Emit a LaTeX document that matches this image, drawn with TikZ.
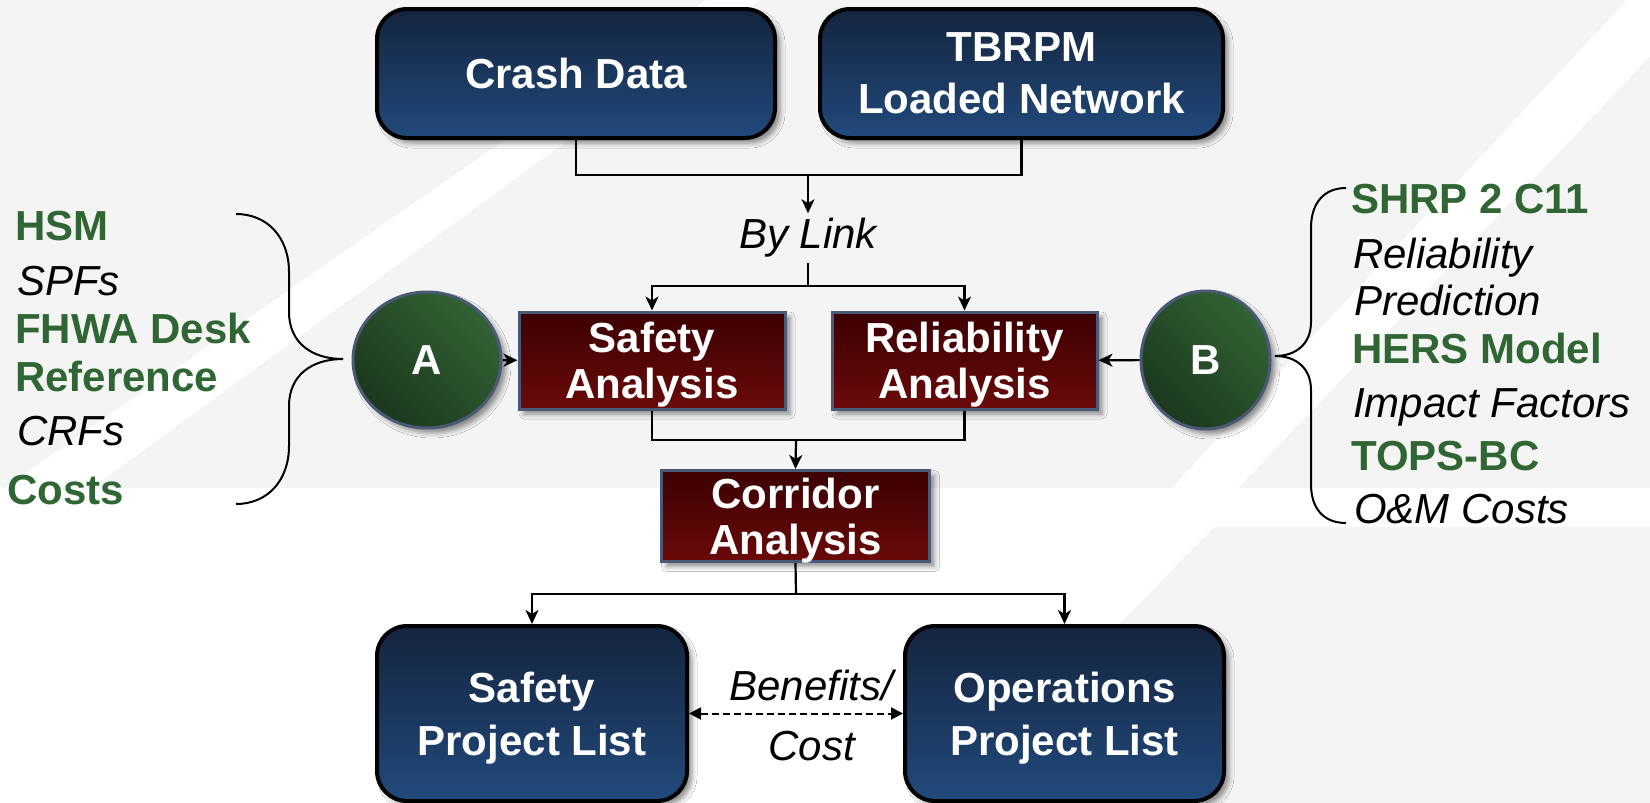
\documentclass[tikz,border=0pt]{standalone}
\usepackage{fontspec}
\setmainfont{Liberation Sans}
\usetikzlibrary{shapes.geometric,shadows.blur,arrows.meta}

\definecolor{bgray}{RGB}{244,244,244}
\definecolor{navytop}{RGB}{20,36,62}
\definecolor{navybot}{RGB}{33,74,124}
\definecolor{maroontop}{RGB}{60,0,2}
\definecolor{maroonbot}{RGB}{106,10,10}
\definecolor{slate}{RGB}{74,90,118}
\definecolor{greenlight}{RGB}{50,98,52}
\definecolor{greendark}{RGB}{28,56,30}
\definecolor{txtgreen}{RGB}{47,102,51}

\tikzset{
  softshadow/.style={blur shadow={shadow xshift=5pt, shadow yshift=-5pt,
      shadow blur radius=5pt, shadow opacity=45}},
  navybox/.style={draw=black, line width=4pt, rounded corners=30pt,
      top color=navytop, bottom color=navybot, text=white,
      font=\fontsize{42}{52}\selectfont\bfseries, align=center,
      inner sep=0pt, text depth=-3pt, softshadow},
  bottombox/.style={navybox, font=\fontsize{42}{53}\selectfont\bfseries,
      text depth=-6pt},
  redbox/.style={draw=slate, line width=3pt,
      top color=maroontop, bottom color=maroonbot, text=white,
      font=\fontsize{42}{46}\selectfont\bfseries, align=center,
      inner sep=0pt, text depth=0pt, softshadow},
  greenball/.style={ellipse, draw=slate, line width=3pt,
      top color=greenlight, bottom color=greendark, shading angle=-45,
      text=white, font=\fontsize{42}{46}\selectfont\bfseries,
      inner sep=0pt, softshadow},
  conn/.style={line width=2.2pt, draw=black},
  arr/.style={-{Stealth[length=14pt,width=13pt,inset=4pt]}},
  twoway/.style={line width=2pt, dash pattern=on 7pt off 4pt,
      {Triangle[length=12pt,width=12pt]}-{Triangle[length=12pt,width=12pt]}},
  brace/.style={line width=2pt, draw=black},
  greenlbl/.style={anchor=base west, inner sep=0pt, text=txtgreen,
      font=\fontsize{42}{46}\selectfont\bfseries},
  itlbl/.style={anchor=base west, inner sep=0pt, text=black,
      font=\fontsize{42}{46}\selectfont\itshape},
  midlbl/.style={anchor=base, inner sep=0pt, text=black,
      font=\fontsize{42}{46}\selectfont\itshape},
}

\begin{document}
\begin{tikzpicture}[x=1pt,y=-1pt]
\useasboundingbox (0,0) rectangle (1650,803);

% background panels and diagonal bands
\fill[white] (0,0) rectangle (1650,803);
\fill[bgray] (0,0) rectangle (1650,488);
\fill[white] (706,0) -- (760,0) -- (0,555) -- (0,491) -- cycle;
\fill[white] (1627,0) -- (1704,0) -- (1236,490) -- (1170,490) -- cycle;
\fill[bgray] (1214,527) -- (1650,527) -- (1650,803) -- (944,803) -- cycle;

% input data
\node[navybox, minimum width=398pt, minimum height=129pt] (crash) at (576,73.5) {Crash Data};
\node[navybox, minimum width=403pt, minimum height=129pt] (tbrpm) at (1021.5,73.5) {TBRPM\\Loaded Network};

% analysis steps
\node[midlbl, anchor=center, inner sep=5pt] (bylink) at (808,238) {By Link};
\node[redbox, minimum width=266pt, minimum height=97pt] (safety) at (652,360.5) {Safety\\Analysis};
\node[redbox, minimum width=265pt, minimum height=97pt] (rel) at (964.5,360.5) {Reliability\\Analysis};
\node[redbox, minimum width=268pt, minimum height=91pt, text depth=-4pt] (corridor) at (795.5,516) {Corridor\\Analysis};

% method sources
\node[greenball, minimum width=148pt, minimum height=136pt] (A) at (427,360) {A};
\node[greenball, minimum width=129pt, minimum height=138pt] (B) at (1205.5,360) {B};

% outputs
\node[bottombox, minimum width=310pt, minimum height=175pt] (spl) at (532,713.5) {Safety\\Project List};
\node[bottombox, minimum width=319pt, minimum height=175pt] (opl) at (1064.5,713.5) {Operations\\Project List};

% junction points
\coordinate (m1) at (808,175);
\coordinate (m2) at (808,286);
\coordinate (m3) at (796,440);
\coordinate (m4) at (796,594);

% flow connectors
\draw[conn] (crash.south) |- (m1) -| (tbrpm.south);
\draw[conn,arr] (m1) -- (m1 |- bylink.north);
\draw[conn] (m1 |- bylink.south) -- (m2);
\draw[conn,arr] (m2) -| (safety.north);
\draw[conn,arr] (m2) -| (rel.north);
\draw[conn] (safety.south) |- (m3) -| (rel.south);
\draw[conn,arr] (m3) -- (corridor.north);
\draw[conn] (corridor.south) -- (m4);
\draw[conn,arr] (m4) -| (spl.north);
\draw[conn,arr] (m4) -| (opl.north);
\draw[conn,arr] (A) -- (safety);
\draw[conn,arr] (B) -- (rel);
\draw[twoway] (spl) -- (opl);

% comparison label
\node[midlbl] (bc1) at (811,700) {Benefits/};
\node[midlbl] (bc2) at (811.5,760) {Cost};

% left brace and its sources
\draw[brace] (236,214) .. controls (268,214) and (289,238) .. (289,272)
  -- (289,312) .. controls (289,343) and (312,359) .. (343,359)
  .. controls (312,359) and (289,375) .. (289,406)
  -- (289,446) .. controls (289,480) and (268,504) .. (236,504);
\node[greenlbl] (hsm) at (15,240) {HSM};
\node[itlbl] (spf) at (17,295) {SPFs};
\node[greenlbl] (fhwa) at (15,343) {FHWA Desk};
\node[greenlbl] (fref) at (15,391) {Reference};
\node[itlbl] (crf) at (17,445) {CRFs};
\node[greenlbl] (cost) at (7,504) {Costs};

% right brace and its sources
\draw[brace] (1346,188) .. controls (1324,188) and (1311,203) .. (1311,228)
  -- (1311,322) .. controls (1311,344) and (1296,356) .. (1275,356)
  .. controls (1296,356) and (1311,368) .. (1311,390)
  -- (1311,484) .. controls (1311,509) and (1324,523) .. (1346,523);
\node[greenlbl] (shrp) at (1351,213) {SHRP 2 C11};
\node[itlbl] (relp1) at (1353,268) {Reliability};
\node[itlbl] (relp2) at (1354,315) {Prediction};
\node[greenlbl] (hers) at (1352,363) {HERS Model};
\node[itlbl] (imp) at (1353,417) {Impact Factors};
\node[greenlbl] (tops) at (1351,470) {TOPS-BC};
\node[itlbl] (om) at (1354,523) {O\&M Costs};
\end{tikzpicture}
\end{document}
